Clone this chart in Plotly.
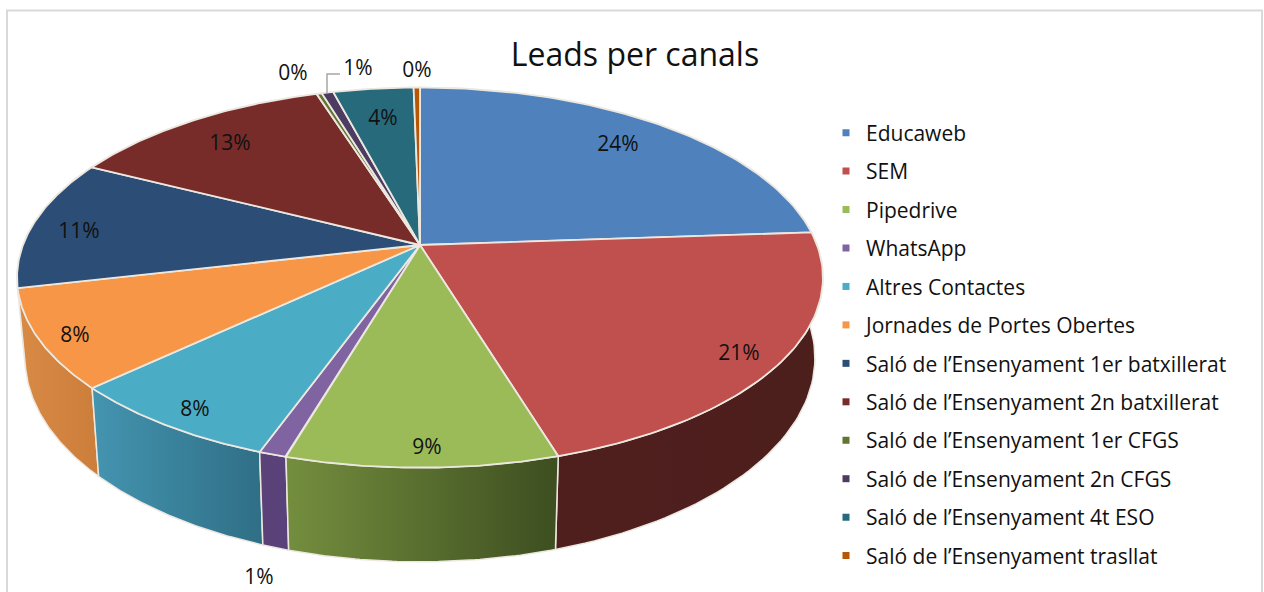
import numpy as np
import plotly.graph_objects as go

title = "Leads per canals"
canals = ["Educaweb", "SEM", "Pipedrive", "WhatsApp", "Altres Contactes",
          "Jornades de Portes Obertes", "Saló de l’Ensenyament 1er batxillerat",
          "Saló de l’Ensenyament 2n batxillerat", "Saló de l’Ensenyament 1er CFGS",
          "Saló de l’Ensenyament 2n CFGS", "Saló de l’Ensenyament 4t ESO",
          "Saló de l’Ensenyament trasllat"]
leads = [23.9, 21.4, 9.25, 0.95, 7.5, 8.4, 11.1, 12.6, 0.25, 0.55, 3.8, 0.3]

top_colors = ["#4f81bd", "#c0504d", "#9bbb59", "#8064a2", "#4bacc6", "#f79646",
              "#2c4d75", "#772c2a", "#5f7530", "#4d3b62", "#276a7c", "#b65708"]
# left and right colour of the rim of each slice
side_colors = [("#3f6797", "#3f6797"), ("#4f1f1e", "#4c1e1c"), ("#748e3e", "#3d4e20"),
               ("#5b4379", "#59417a"), ("#4494b0", "#2f6f86"), ("#d98a45", "#cb7d3a"),
               ("#2c4d75", "#2c4d75"), ("#772c2a", "#772c2a"), ("#5f7530", "#5f7530"),
               ("#4d3b62", "#4d3b62"), ("#276a7c", "#276a7c"), ("#b65708", "#b65708")]
label_x = [618, 739, 427, 259, 195, 75, 79, 230, 293, 358, 383, 417]
label_y = [146, 355, 449, 579, 411, 337, 233, 145, 75, 70, 120, 72]

# pie geometry in pixels (perspective view of a disc)
cx, cy = 420, 245
ax, ay, k = 397, 184.5, 0.1715
depth, shrink = 78, 0.98
EDGE = "#ece8e0"


def top_rim(t):
    w = 1 + k * np.cos(t)
    return cx + ax * np.sin(t) / w, cy - ay * np.cos(t) / w


def low_rim(t):
    x, y = top_rim(t)
    return cx + (x - cx) * shrink, y + depth / (1 + k * np.cos(t))


shares = np.array(leads) / sum(leads)
ends = np.cumsum(shares) * 2 * np.pi
starts = ends - shares * 2 * np.pi

fig = go.Figure()

# rims first, back to front, the top faces cover the hidden part
order = np.argsort(-np.cos((starts + ends) / 2))
for i in order:
    t = np.linspace(starts[i], ends[i], 60)
    x1, y1 = top_rim(t)
    x2, y2 = low_rim(t)
    fig.add_trace(go.Scatter(
        x=np.r_[x1, x2[::-1], x1[0]], y=np.r_[y1, y2[::-1], y1[0]], mode="lines",
        line=dict(color=EDGE, width=1.5), fill="toself",
        fillgradient=dict(type="horizontal",
                          colorscale=[[0, side_colors[i][0]], [1, side_colors[i][1]]]),
        hoverinfo="skip", showlegend=False))

for i in range(len(leads)):
    t = np.linspace(starts[i], ends[i], 80)
    x1, y1 = top_rim(t)
    fig.add_trace(go.Scatter(
        x=np.r_[cx, x1, cx], y=np.r_[cy, y1, cy], mode="lines",
        line=dict(color=EDGE, width=1.8), fill="toself", fillcolor=top_colors[i],
        name=canals[i], hoverinfo="name", showlegend=False))

# legend entries
for i in range(len(leads)):
    fig.add_trace(go.Scatter(
        x=[None], y=[None], mode="markers", name=canals[i], legendgroup=canals[i],
        marker=dict(symbol="square", size=7, color=top_colors[i])))

fig.add_trace(go.Scatter(
    x=label_x, y=label_y, mode="text", textposition="middle center",
    text=[f"{v * 100:.0f}%" for v in shares],
    textfont=dict(family="Open Sans", size=21, color="#111111"),
    hoverinfo="skip", showlegend=False))

# leader line of the 1% label
fig.add_shape(type="path", path="M 340 74 L 327 74 L 327 93",
              line=dict(color="#a6a6a6", width=1.5))

# chart frame, cut off at the bottom
fig.add_shape(type="path", path="M 7 592 L 7 10.5 L 1262 10.5 L 1262 592",
              line=dict(color="#d9d9d9", width=2))

fig.update_layout(
    width=1264, height=592, margin=dict(l=0, r=0, t=0, b=0),
    paper_bgcolor="white", plot_bgcolor="white",
    title=dict(text=title, x=635 / 1264, y=1 - 55 / 592, xanchor="center", yanchor="middle",
               font=dict(family="Open Sans", size=32, color="#111111")),
    xaxis=dict(range=[0, 1264], visible=False, fixedrange=True),
    yaxis=dict(range=[592, 0], visible=False, fixedrange=True),
    legend=dict(x=826 / 1264, y=1 - 112.5 / 592, xanchor="left", yanchor="top",
                tracegroupgap=8.15, bgcolor="rgba(0,0,0,0)",
                font=dict(family="Open Sans", size=21, color="#111111")),
)

fig.write_html("out.html", config=dict(displayModeBar=False),
               post_script="document.body.style.margin='0';")
